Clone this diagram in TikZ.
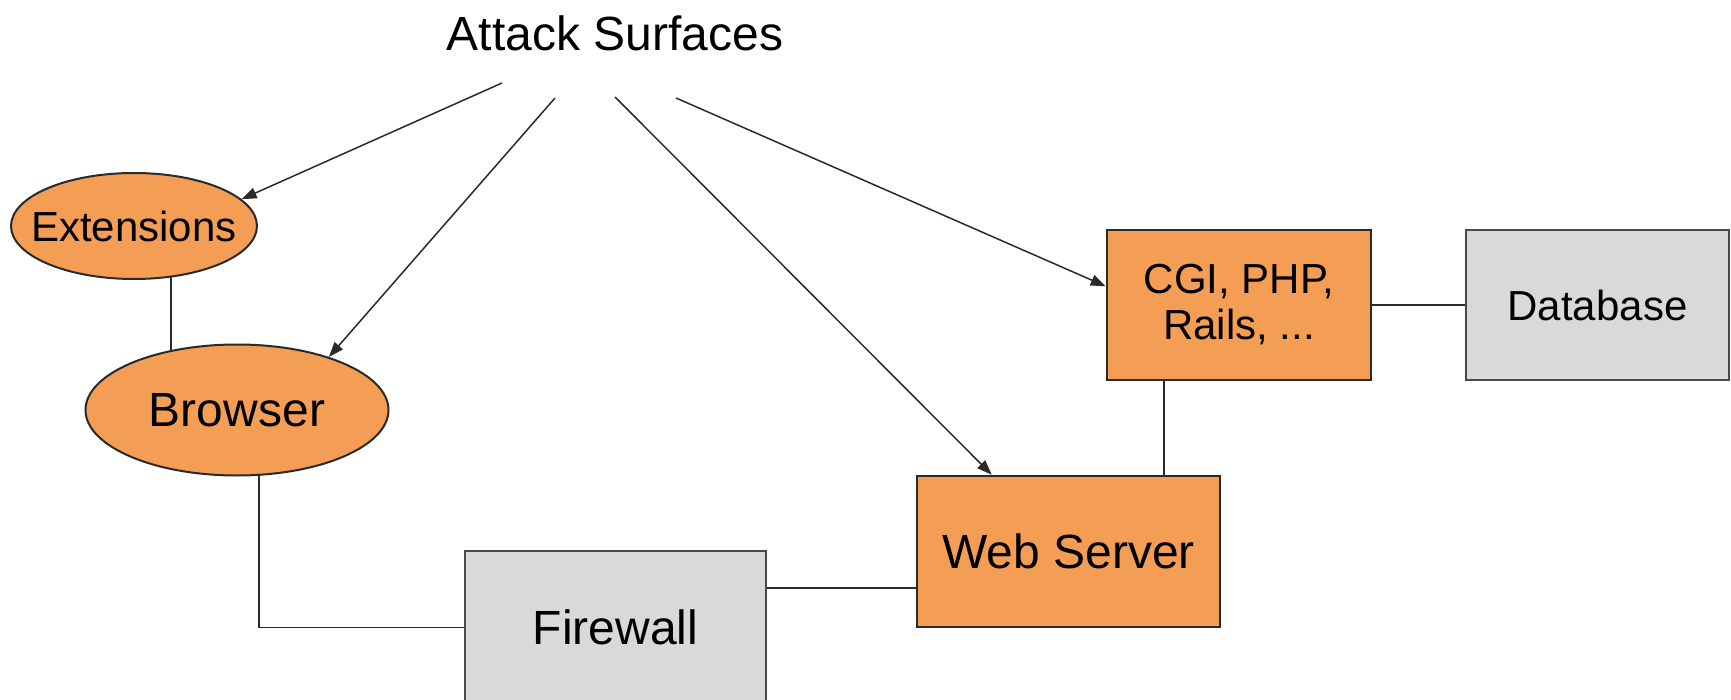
\documentclass[tikz,border=0pt]{standalone}
\usepackage{fontspec}
\setmainfont{Liberation Sans}
\usetikzlibrary{shapes.geometric,arrows.meta,backgrounds}
\definecolor{orng}{HTML}{F49D55}
\definecolor{lgray}{HTML}{D9D9D9}
\definecolor{edge}{HTML}{2A2A2A}
\tikzset{
  big/.style={font=\fontsize{48}{52}\selectfont},
  small/.style={font=\fontsize{42}{50}\selectfont},
  oval/.style={ellipse, draw=edge, line width=2pt, fill=orng, inner sep=0pt},
  obox/.style={rectangle, draw=edge, line width=2.5pt, fill=orng, inner sep=0pt, align=center},
  gbox/.style={rectangle, draw=edge!85, line width=2.5pt, fill=lgray, inner sep=0pt, align=center},
  conn/.style={draw=edge, line width=1.5pt},
  arr/.style={conn, -{Triangle[length=15pt,width=11pt]}}
}
\begin{document}
\begin{tikzpicture}[x=1pt,y=-1pt]
\clip (0,0) rectangle (1731,700);
\node[big] (title) at (615,33) {Attack Surfaces};
\node[oval, small, minimum width=246pt, minimum height=106pt] (ext) at (134,226) {\makebox[0pt]{Extensions}};
\node[oval, big, minimum width=303pt, minimum height=131pt] (br) at (237,410) {Browser};
\node[gbox, big, minimum width=301pt, minimum height=153pt] (fw) at (615.5,627.5) {Firewall};
\node[obox, big, minimum width=303pt, minimum height=151pt] (ws) at (1068.5,551.5) {Web Server};
\node[obox, small, minimum width=264pt, minimum height=150pt] (cgi) at (1239,305) {CGI, PHP,\\[-4pt]Rails, ...};
\node[gbox, small, minimum width=263pt, minimum height=150pt] (db) at (1597.5,305) {Database};
\coordinate (a1) at (502,83);
\coordinate (a2) at (555,98);
\coordinate (a3) at (615,97);
\coordinate (a4) at (676,98);
\draw[arr] (a1) -- (ext.14);
\draw[arr] (a2) -- (br.30);
\draw[arr] (a3) -- (ws.135);
\draw[arr] (a4) -- (cgi.172);
\begin{scope}[on background layer]
\draw[conn] ([xshift=37pt]ext.center) -- ([xshift=37pt]ext.center |- br.center);
\draw[conn] ([xshift=22pt]br.center) |- (fw.west);
\draw[conn] ([yshift=-36.5pt]ws.west) -- ([yshift=-36.5pt]ws.west -| fw.east);
\draw[conn] ([xshift=-75pt]cgi.south) -- ([xshift=-75pt]cgi.south |- ws.north);
\draw[conn] (cgi) -- (db);
\end{scope}
\end{tikzpicture}
\end{document}
